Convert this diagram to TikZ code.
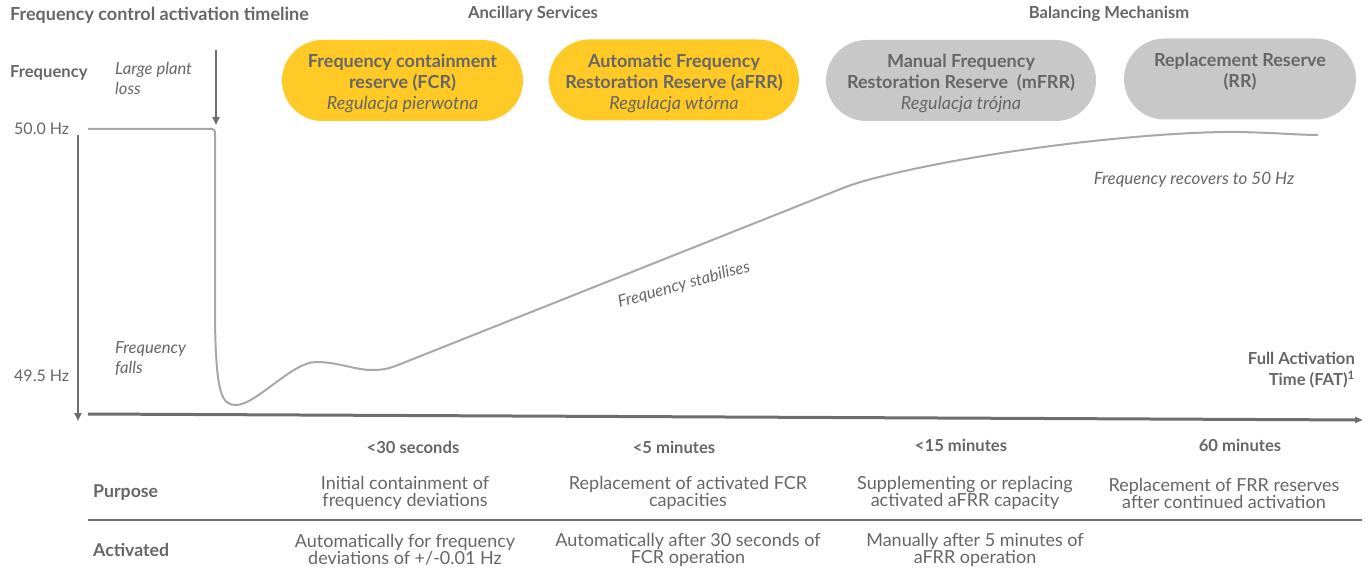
\documentclass[tikz,border=0pt]{standalone}
\usepackage{fontspec}
\setmainfont{Lato}
\usetikzlibrary{arrows.meta,shapes.misc}
\definecolor{txt}{HTML}{666666}
\definecolor{axisgray}{HTML}{6E6E6E}
\definecolor{curvegray}{HTML}{A8A8A8}
\definecolor{fcryellow}{HTML}{FFC926}
\definecolor{pillgray}{HTML}{C8C8C8}
\begin{document}
\begin{tikzpicture}[x=1pt,y=-1pt,
  every node/.style={text=txt,inner sep=0pt},
  head/.style={font=\fontsize{16.6}{20}\selectfont\bfseries},
  lab/.style={font=\fontsize{16.6}{20}\selectfont\itshape,align=left,anchor=west},
  cell/.style={font=\fontsize{18}{17}\selectfont,align=center},
  rowhead/.style={font=\fontsize{17.7}{20}\selectfont\bfseries,anchor=west},
  fat/.style={font=\fontsize{16.6}{21}\selectfont\bfseries},
  pill/.style={rounded rectangle,minimum height=81pt},
  pilltext/.style={align=center,font=\fontsize{18}{21}\selectfont\bfseries},
  axisline/.style={draw=axisgray,line width=2pt,-{Triangle[length=8pt,width=7pt]}},
  curveline/.style={draw=curvegray,line width=2pt,line join=round}]
\useasboundingbox (0,0) rectangle (1370,569);

% headings
\node[head,font=\fontsize{18}{20}\selectfont\bfseries,anchor=west] (title) at (10,15) {Frequency control activation timeline};
\node[head] (anc) at (533,14) {Ancillary Services};
\node[head] (bal) at (1109,14) {Balancing Mechanism};

% reserve products
\node[pill,fill=fcryellow,minimum width=241pt] (fcr) at (402.5,80.5) {};
\node[pill,fill=fcryellow,minimum width=250pt] (afrr) at (674,80) {};
\node[pill,fill=pillgray,minimum width=270pt] (mfrr) at (961,80.5) {};
\node[pill,fill=pillgray,minimum width=232pt] (rr) at (1240,79) {};
\node[pilltext] (fcrt) at (402.5,83)
  {Frequency containment\\reserve (FCR)\\{\mdseries\itshape Regulacja pierwotna}};
\node[pilltext] (afrrt) at (674,83)
  {Automatic Frequency\\Restoration Reserve (aFRR)\\{\mdseries\itshape Regulacja wtórna}};
\node[pilltext] (mfrrt) at (961,83)
  {Manual Frequency\\Restoration Reserve\ \ (mFRR)\\{\mdseries\itshape Regulacja trójna}};
\node[pilltext] (rrt) at (1240,72)
  {Replacement Reserve\\(RR)};

% axis labels
\node[head,anchor=west] (freq) at (10,73) {Frequency};
\node[font=\fontsize{16}{20}\selectfont,anchor=west] (hz50) at (14,129) {50.0 Hz};
\node[font=\fontsize{16}{20}\selectfont,anchor=west] (hz495) at (14,376) {49.5 Hz};
\node[lab] (loss) at (115,78) {Large plant\\loss};
\node[lab] (falls) at (115,359) {Frequency\\falls};
\node[font=\fontsize{16.5}{20}\selectfont\itshape,rotate=15.5] (stab) at (684,285) {Frequency stabilises};
\node[font=\fontsize{17}{20}\selectfont\itshape] (rec) at (1194,180) {Frequency recovers to 50 Hz};
\node[fat,align=right,anchor=east] (fatl) at (1355,370) {Full Activation\\Time (FAT)\textsuperscript{1}};

% axes
\coordinate (ytop) at (78,135);
\coordinate (ybot) at (78,421);
\coordinate (xl) at (88,414);
\coordinate (xr) at (1363,420);
\draw[axisline] (ytop) -- (ybot);
\draw[axisline,line width=3pt,-{Triangle[length=8pt,width=6pt]}] (xl) -- (xr);
\coordinate (losstop) at (216,50);
\coordinate (lossbot) at (216,125);
\draw[axisline] (losstop) -- (lossbot);

% frequency trace
\draw[curveline] (88,129) -- (212,129)
  .. controls (214,129) and (215,130) .. (215,134)
  -- (215,320)
  .. controls (216,395) and (222,405) .. (236,405)
  .. controls (256,405) and (292,362) .. (316,362)
  .. controls (338,362) and (355,370) .. (372,370)
  .. controls (385,370) and (390,368) .. (398,365)
  -- (838,190)
  .. controls (855,183) and (870,179) .. (900,172)
  .. controls (1020,145) and (1170,131) .. (1240,132)
  .. controls (1280,133) and (1300,135) .. (1318,135);

% activation times
\node[head] (t1) at (413,447) {<30 seconds};
\node[head] (t2) at (674,447) {<5 minutes};
\node[head] (t3) at (961,445) {<15 minutes};
\node[head] (t4) at (1240,445) {60 minutes};

% table
\node[rowhead] (purpose) at (93,493) {Purpose};
\node[rowhead] (activated) at (93,550) {Activated};
\node[cell] (p1) at (405,493) {Initial containment of\\frequency deviations};
\node[cell] (p2) at (688,493) {Replacement of activated FCR\\capacities};
\node[cell] (p3) at (965,493) {Supplementing or replacing\\activated aFRR capacity};
\node[cell] (p4) at (1224,493) {Replacement of FRR reserves\\after continued activation};
\coordinate (sepl) at (88,520);
\coordinate (sepr) at (1362,520);
\draw[axisgray,line width=1.6pt] (sepl) -- (sepr);
\node[cell] (a1) at (405,550) {Automatically for frequency\\deviations of +/-0.01 Hz};
\node[cell] (a2) at (688,550) {Automatically after 30 seconds of\\FCR operation};
\node[cell] (a3) at (975,550) {Manually after 5 minutes of\\aFRR operation};
\end{tikzpicture}
\end{document}
